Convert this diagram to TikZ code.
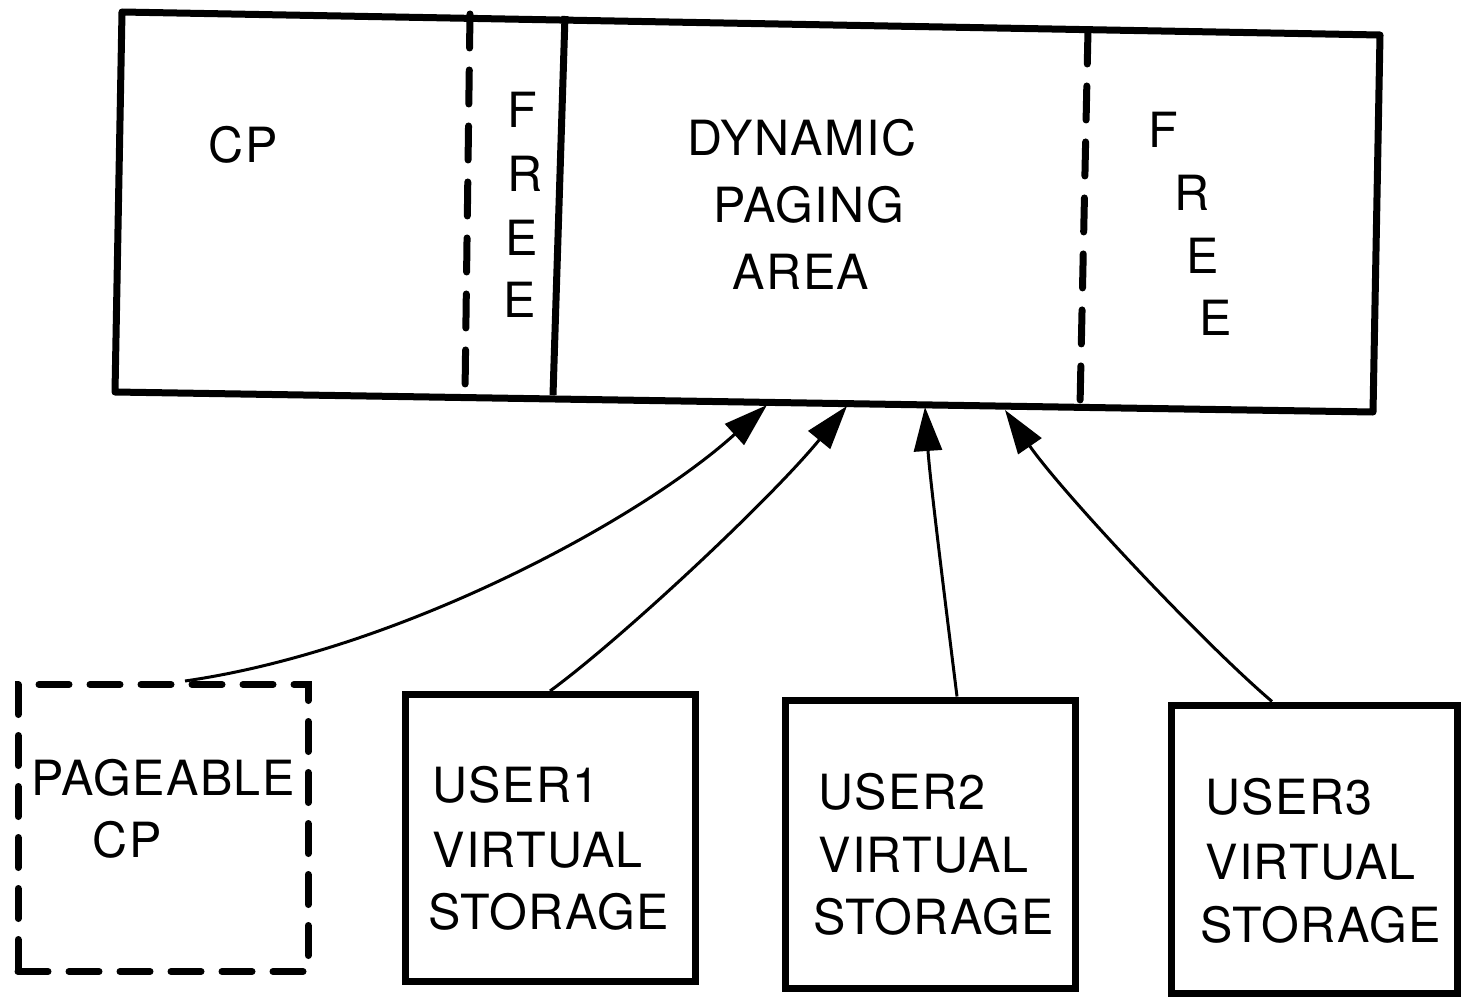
\documentclass[tikz,border=0pt]{standalone}
\usepackage{fontspec}
\setmainfont[LetterSpace=3]{TeX Gyre Heros}
\usetikzlibrary{arrows.meta}
\tikzset{
  thickbox/.style={draw=black, line width=7pt, line join=round},
  dividerdash/.style={draw=black, line width=7pt, line cap=round, dash pattern=on 34pt off 22pt},
  pagebox/.style={draw=black, line width=7pt, line cap=round, dash pattern=on 30pt off 21pt, rectangle, inner sep=0pt},
  userbox/.style={draw=black, line width=7pt, rectangle, inner sep=0pt},
  lbl/.style={inner sep=0pt, font=\fontsize{48.5}{58}\selectfont},
  llbl/.style={lbl, anchor=west},
  feed/.style={draw=black, line width=3pt, -{Triangle[length=44pt,width=28pt]}},
}
\begin{document}
\begin{tikzpicture}[x=1pt,y=-1pt]
\useasboundingbox (0,0) rectangle (1464,998);
% main storage box (slightly skewed as in the scan)
\coordinate (tl) at (122,12);
\coordinate (tr) at (1380,35);
\coordinate (br) at (1373,412);
\coordinate (bl) at (115,392);
\draw[thickbox] (tl) -- (tr) -- (br) -- (bl) -- cycle;
% dividers
\coordinate (d1t) at (470,14);
\coordinate (d1b) at (465,393);
\coordinate (d2t) at (565,16);
\coordinate (d2b) at (553,395);
\coordinate (d3t) at (1088,30);
\coordinate (d3b) at (1080,406);
\draw[dividerdash] (d1t) -- (d1b);
\draw[line width=7pt] (d2t) -- (d2b);
\draw[dividerdash] (d3t) -- (d3b);
% texts of the main box
\node[lbl] (cp) at (243,145) {CP};
\node[lbl] (f1) at (522,110) {F};
\node[lbl] (r1) at (525,174) {R};
\node[lbl] (e1) at (522,238) {E};
\node[lbl] (e2) at (520,300) {E};
\node[lbl] (dyn) at (802,138) {DYNAMIC};
\node[lbl] (pag) at (809,205) {PAGING};
\node[lbl] (are) at (801,272) {AREA};
\node[lbl] (f2) at (1163,130) {F};
\node[lbl] (r2) at (1192,193) {R};
\node[lbl] (e3) at (1203,256) {E};
\node[lbl] (e4) at (1216,318) {E};
% lower boxes
\node[pagebox, minimum width=290pt, minimum height=287pt] (pg) at (163,828) {};
\node[userbox, minimum width=290pt, minimum height=287pt] (u1) at (550,838) {};
\node[userbox, minimum width=290pt, minimum height=288pt] (u2) at (930,844) {};
\node[userbox, minimum width=286pt, minimum height=288pt] (u3) at (1314,849) {};
% lower texts
\node[lbl] (pgt1) at (163,778) {PAGEABLE};
\node[lbl] (pgt2) at (127,840) {CP};
\node[llbl] (u1a) at (432,785) {USER1};
\node[llbl] (u1b) at (432,850) {VIRTUAL};
\node[llbl] (u1c) at (428,912) {STORAGE};
\node[llbl] (u2a) at (818,792) {USER2};
\node[llbl] (u2b) at (818,855) {VIRTUAL};
\node[llbl] (u2c) at (813,917) {STORAGE};
\node[llbl] (u3a) at (1205,797) {USER3};
\node[llbl] (u3b) at (1205,862) {VIRTUAL};
\node[llbl] (u3c) at (1200,925) {STORAGE};
% arrow targets on the bottom edge of the main box
\coordinate (t1) at (767,405);
\coordinate (t2) at (847,406);
\coordinate (t3) at (925,407);
\coordinate (t4) at (1005,410);
% connectors
\draw[feed] ([xshift=22pt]pg.north) .. controls (400,650) and (640,520) .. (t1);
\draw[feed] (u1.north) .. controls (620,640) and (770,500) .. (t2);
\draw[feed] ([xshift=27pt]u2.north) .. controls (945,600) and (930,480) .. (t3);
\draw[feed] ([xshift=-42pt]u3.north) .. controls (1200,640) and (1060,490) .. (t4);
\end{tikzpicture}
\end{document}
